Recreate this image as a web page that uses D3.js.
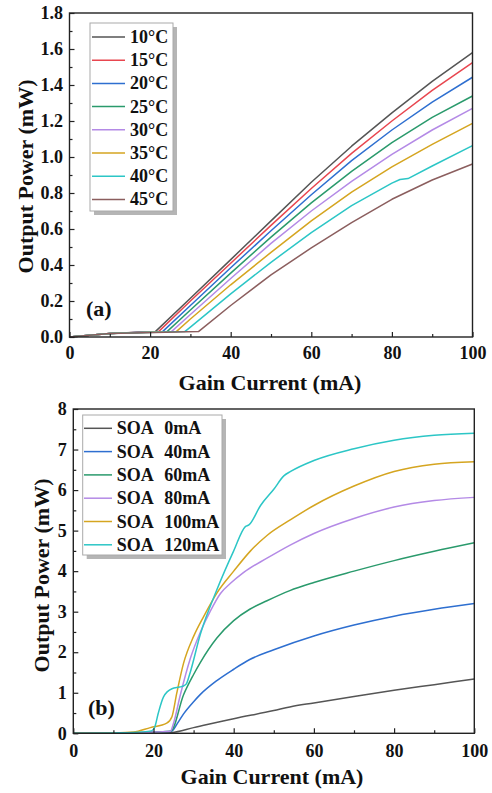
<!DOCTYPE html>
<html>
<head>
<meta charset="utf-8">
<title>Output power vs gain current</title>
<script src="https://d3js.org/d3.v7.min.js"></script>
<style>
    body { margin: 0; background: #fff; }
    svg { display: block; font-family: "Times New Roman", "Liberation Serif", serif; font-weight: bold; }
    .tick text { font-family: "Times New Roman", "Liberation Serif", serif; font-weight: bold; font-size: 18px; fill: #111; }
    .tick line { stroke: #222; stroke-width: 1.2; }
</style>
</head>
<body>
<svg id="main-svg" width="492" height="793"></svg>
<script>
// ---- panel (a): temperature sweep ----
const tempLabels = ["10°C", "15°C", "20°C", "25°C", "30°C", "35°C", "40°C", "45°C"];
const tempCurves = [
    [[0,0],[10,0.02],[21.3,0.03],[30,0.215],[40,0.43],[50,0.645],[60,0.86],[70,1.06],[80,1.245],[90,1.42],[100,1.58]],
    [[0,0],[10,0.02],[22.1,0.03],[30,0.2],[40,0.41],[50,0.62],[60,0.825],[70,1.02],[80,1.2],[90,1.37],[100,1.524]],
    [[0,0],[10,0.02],[23.1,0.03],[30,0.175],[40,0.385],[50,0.59],[60,0.79],[70,0.98],[80,1.15],[90,1.305],[100,1.443]],
    [[0,0],[10,0.02],[24.2,0.03],[30,0.15],[40,0.355],[50,0.555],[60,0.745],[70,0.92],[80,1.08],[90,1.22],[100,1.339]],
    [[0,0],[10,0.02],[25.3,0.03],[30,0.125],[40,0.325],[50,0.52],[60,0.70],[70,0.865],[80,1.015],[90,1.15],[100,1.27]],
    [[0,0],[10,0.02],[26.5,0.03],[30,0.1],[40,0.29],[50,0.47],[60,0.645],[70,0.805],[80,0.945],[90,1.07],[100,1.187]],
    [[0,0],[10,0.02],[28.6,0.03],[30,0.055],[40,0.24],[50,0.415],[60,0.58],[70,0.73],[80,0.855],[82,0.875],[84,0.88],[90,0.95],[100,1.063]],
    [[0,0],[10,0.02],[32,0.03],[40,0.175],[50,0.345],[60,0.495],[70,0.635],[80,0.765],[90,0.872],[100,0.961]]
];
const tempColors = ["#555555", "#e8464f", "#2e6fd0", "#2a9a6c", "#b48ae6", "#d5a520", "#2cc6c6", "#8b5e5e"];

// ---- panel (b): SOA current sweep ----
const soaLabels = ["0mA", "40mA", "60mA", "80mA", "100mA", "120mA"];
const soaCurves = [
    [[0,0],[10,0],[20,0.01],[24.5,0.02],[30,0.14],[40,0.36],[50,0.56],[54,0.65],[60,0.75],[70,0.91],[80,1.06],[90,1.2],[100,1.34]],
    [[0,0],[15,0.01],[20,0.03],[24.5,0.05],[26,0.25],[27.5,0.48],[30,0.78],[31.7,0.96],[35.8,1.3],[40,1.58],[44,1.82],[50,2.06],[60,2.4],[70,2.67],[80,2.89],[90,3.06],[100,3.2]],
    [[0,0],[15,0.01],[20,0.03],[24.3,0.05],[27.5,0.95],[30,1.45],[31.7,1.75],[35.8,2.35],[40,2.78],[44,3.06],[48.3,3.27],[54,3.52],[60,3.72],[70,4.0],[80,4.26],[90,4.49],[100,4.7]],
    [[0,0],[15,0.01],[20,0.03],[24.2,0.05],[25,0.25],[26.7,0.95],[29.2,1.85],[31.7,2.5],[34.2,3.02],[36.7,3.45],[39.2,3.7],[42.5,3.97],[48.3,4.32],[54.2,4.65],[60,4.93],[70,5.3],[80,5.58],[90,5.74],[100,5.82]],
    [[0,0],[10,0.01],[15,0.03],[19.2,0.14],[23.3,0.25],[24.6,0.41],[25.8,0.99],[27.5,1.73],[30,2.39],[32.5,2.88],[35.8,3.46],[40,4.0],[44.2,4.5],[48.3,4.88],[54.2,5.27],[60,5.62],[70,6.1],[80,6.46],[90,6.64],[100,6.7]],
    [[0,0],[10,0.01],[15,0.02],[19.5,0.06],[20.3,0.15],[21.2,0.5],[22.5,0.9],[24.6,1.1],[26.5,1.14],[27.3,1.16],[28.2,1.22],[29,1.45],[31.7,2.45],[35.8,3.54],[40,4.5],[42.9,5.1],[43.8,5.14],[46.7,5.62],[50,6.02],[52.5,6.35],[54.2,6.46],[60,6.73],[70,7.02],[80,7.23],[90,7.35],[100,7.4]]
];
const soaColors = ["#555555", "#2e6fd0", "#2a9a6c", "#b48ae6", "#d5a520", "#2cc6c6"];

const xTicks = [0, 20, 40, 60, 80, 100];
const xMinor = [10, 30, 50, 70, 90];
const yTicksA = [0, 0.2, 0.4, 0.6, 0.8, 1.0, 1.2, 1.4, 1.6, 1.8];
const yTicksB = [0, 1, 2, 3, 4, 5, 6, 7, 8];

const svg = d3.select("#main-svg");

function drawPanel(cfg) {
    const x = d3.scaleLinear().domain([0, 100]).range([cfg.left, cfg.right]);
    const y = d3.scaleLinear().domain([0, cfg.yMax]).range([cfg.bottom, cfg.top]);
    const g = svg.append("g");

    // curves
    const line = d3.line().x(d => x(d[0])).y(d => y(d[1])).curve(cfg.curve);
    cfg.curves.forEach((c, i) => {
        g.append("path")
            .attr("d", line(c))
            .attr("fill", "none")
            .attr("stroke", cfg.colors[i])
            .attr("stroke-width", 1.5)
            .attr("stroke-linejoin", "round");
    });

    // axes, ticks point inward
    g.append("g").attr("transform", `translate(0,${cfg.bottom})`)
        .call(d3.axisBottom(x).tickValues(xTicks).tickSize(-5).tickPadding(cfg.xPad).tickFormat(d3.format("d")));
    g.append("g").attr("transform", `translate(0,${cfg.bottom})`)
        .call(d3.axisBottom(x).tickValues(xMinor).tickSize(-3).tickFormat(""));
    g.append("g").attr("transform", `translate(${cfg.left},0)`)
        .call(d3.axisLeft(y).tickValues(cfg.yTicks).tickSize(-5).tickPadding(cfg.yPad).tickFormat(cfg.yFmt));
    g.append("g").attr("transform", `translate(${cfg.left},0)`)
        .call(d3.axisLeft(y).tickValues(cfg.yMinor).tickSize(-3).tickFormat(""));
    g.selectAll(".domain").remove();

    // frame
    g.append("rect")
        .attr("x", cfg.left).attr("y", cfg.top)
        .attr("width", cfg.right - cfg.left).attr("height", cfg.bottom - cfg.top)
        .attr("fill", "none").attr("stroke", "#222").attr("stroke-width", 1.4);

    // axis titles
    g.append("text")
        .attr("x", cfg.xTitleX).attr("y", cfg.xTitleY)
        .attr("text-anchor", "middle").style("font-size", "22px").attr("fill", "#111")
        .text("Gain Current (mA)");
    g.append("text")
        .attr("transform", `translate(${cfg.yTitleX},${cfg.yTitleY}) rotate(-90)`)
        .attr("text-anchor", "middle").style("font-size", "22px").attr("fill", "#111")
        .text("Output Power (mW)");

    // panel tag
    g.append("text")
        .attr("x", cfg.tagX).attr("y", cfg.tagY)
        .style("font-size", "22px").attr("fill", "#111")
        .text(cfg.tag);

    // legend with drop shadow
    const L = cfg.legend;
    g.append("rect")
        .attr("x", L.x + 4).attr("y", L.y + 4).attr("width", L.w).attr("height", L.h)
        .attr("fill", "#b5b5b5");
    g.append("rect")
        .attr("x", L.x).attr("y", L.y).attr("width", L.w).attr("height", L.h)
        .attr("fill", "#fff").attr("stroke", "#aaa").attr("stroke-width", 1);
    cfg.labels.forEach((lab, i) => {
        const cy = L.firstY + i * L.step;
        g.append("line")
            .attr("x1", L.lineX1).attr("x2", L.lineX2).attr("y1", cy).attr("y2", cy)
            .attr("stroke", cfg.colors[i]).attr("stroke-width", 1.5);
        if (L.prefix) {
            g.append("text").attr("x", L.textX).attr("y", cy + 6)
                .style("font-size", "18px").attr("fill", "#111").text(L.prefix);
            g.append("text").attr("x", L.numX).attr("y", cy + 6)
                .style("font-size", "18px").attr("fill", "#111").text(lab);
        } else {
            g.append("text").attr("x", L.textX).attr("y", cy + 6)
                .style("font-size", "18px").attr("fill", "#111").text(lab);
        }
    });
}

drawPanel({
    left: 69.5, right: 472.5, top: 13, bottom: 337,
    yMax: 1.8, yTicks: yTicksA, yMinor: d3.range(0.1, 1.8, 0.2), yFmt: d3.format(".1f"),
    xPad: 9.5, yPad: 6.5,
    curves: tempCurves, colors: tempColors, labels: tempLabels, curve: d3.curveLinear,
    xTitleX: 270, xTitleY: 390, yTitleX: 32.5, yTitleY: 176.5,
    tag: "(a)", tagX: 86, tagY: 315.5,
    legend: { x: 90, y: 23, w: 83, h: 188, firstY: 37, step: 23.2, lineX1: 92, lineX2: 125, textX: 130 }
});

drawPanel({
    left: 73.3, right: 474.3, top: 409, bottom: 733.3,
    yMax: 8, yTicks: yTicksB, yMinor: d3.range(0.5, 8, 1), yFmt: d3.format("d"),
    xPad: 10.5, yPad: 6.6,
    curves: soaCurves, colors: soaColors, labels: soaLabels, curve: d3.curveMonotoneX,
    xTitleX: 272, xTitleY: 784, yTitleX: 48.5, yTitleY: 575.5,
    tag: "(b)", tagX: 88, tagY: 715,
    legend: { x: 82.7, y: 415, w: 139.3, h: 140, firstY: 428.3, step: 23.3, lineX1: 84, lineX2: 112, textX: 116.7, numX: 164.3, prefix: "SOA" }
});
</script>
</body>
</html>
